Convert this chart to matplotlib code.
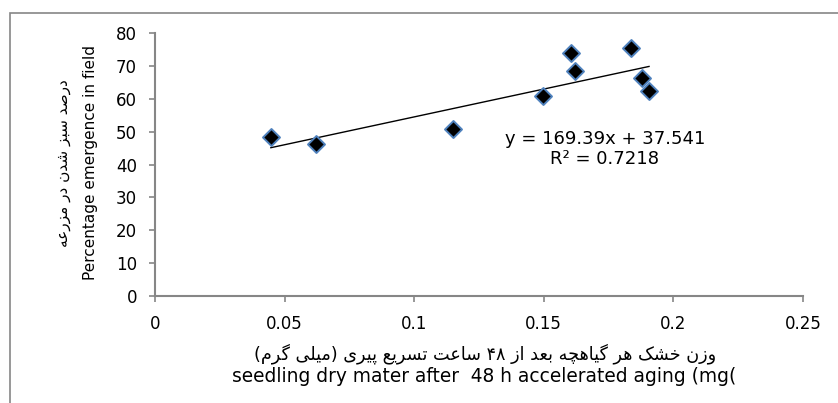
import re
import unicodedata

import matplotlib
matplotlib.use('Agg')
import matplotlib.pyplot as plt
import numpy as np
from matplotlib.patches import Rectangle

# داده ها
dry_weight = [0.0447, 0.0621, 0.115, 0.1495, 0.1605, 0.162, 0.1837, 0.1877, 0.1906]
emergence = [48.3, 46.1, 50.9, 60.8, 74.0, 68.4, 75.3, 66.2, 62.3]
slope, intercept = 169.39, 37.541
r2 = 0.7218
x_ticks = [0, 0.05, 0.1, 0.15, 0.2, 0.25]
y_ticks = [0, 10, 20, 30, 40, 50, 60, 70, 80]

ylabel_fa = 'درصد سبز شدن در مزرعه'
ylabel_en = 'Percentage emergence in field'
xlabel_fa = 'وزن خشک هر گیاهچه بعد از ۴۸ ساعت تسریع پیری (میلی گرم)'
xlabel_en = 'seedling dry mater after  48 h accelerated aging (mg('

# جدول شکل های حروف عربی/فارسی از روی unicodedata
FORMS = {}
for cp in list(range(0xFB50, 0xFE00)) + list(range(0xFE70, 0xFF00)):
    d = unicodedata.decomposition(chr(cp)).split()
    if len(d) == 2 and d[0] in ('<isolated>', '<final>', '<initial>', '<medial>'):
        FORMS.setdefault((chr(int(d[1], 16)), d[0][1:-1]), chr(cp))


def joins_next(c):
    return (c, 'initial') in FORMS


def is_letter(c):
    return (c, 'final') in FORMS


def rtl(text):
    out = []
    for i, c in enumerate(text):
        if not is_letter(c):
            out.append(c)
            continue
        prev = i > 0 and joins_next(text[i - 1])
        nxt = i + 1 < len(text) and is_letter(text[i + 1]) and joins_next(c)
        if prev and nxt:
            form = 'medial'
        elif prev:
            form = 'final'
        elif nxt:
            form = 'initial'
        else:
            form = 'isolated'
        out.append(FORMS.get((c, form), FORMS.get((c, 'isolated'), c)))
    s = ''.join(out)[::-1]
    s = re.sub(r'[0-9\u06f0-\u06f9]+', lambda m: m.group(0)[::-1], s)
    s = s.translate(str.maketrans('()', ')('))
    return s


plt.rcParams['font.family'] = ['DejaVu Sans']
gray = '#868686'

fig = plt.figure(figsize=(8.38, 4.03), dpi=100)
ax = fig.add_axes([155 / 838, 1 - 296 / 403, 648 / 838, 263 / 403])

# کادر بیرونی
fig.patches.append(Rectangle((10 / 838, -0.1), 1.2, 1.1 - 13 / 403, transform=fig.transFigure,
                             fill=False, edgecolor=gray, linewidth=1.2))

ax.scatter(dry_weight, emergence, marker='D', s=75, c='black', edgecolors='#4F81BD', linewidths=1.4, zorder=3)

xs = np.array([min(dry_weight), max(dry_weight)])
ax.plot(xs, slope * xs + intercept, color='black', linewidth=1)

ax.text(0.1736, 44.7, 'y = %.2fx + %.3f\nR² = %.4f' % (slope, intercept, r2), ha='center', va='center',
        fontsize=13, linespacing=1.15)

ax.set_xlim(0, 0.25)
ax.set_ylim(0, 80)
ax.set_xticks(x_ticks)
ax.set_xticklabels(['0', '0.05', '0.1', '0.15', '0.2', '0.25'])
ax.set_yticks(y_ticks)

for s in ['top', 'right']:
    ax.spines[s].set_visible(False)
for s in ['left', 'bottom']:
    ax.spines[s].set_color(gray)
    ax.spines[s].set_linewidth(1.5)
ax.tick_params(axis='both', colors=gray, labelcolor='black', labelsize=12, length=4, width=1.2)
ax.tick_params(axis='x', pad=10)
ax.tick_params(axis='y', pad=9)

fig.text(91 / 838, 1 - 163 / 403, ylabel_en, rotation=90, ha='center', va='center', fontsize=11)
fig.text(63 / 838, 1 - 163 / 403, rtl(ylabel_fa), rotation=90, ha='center', va='center', fontsize=11)
fig.text(485 / 838, 1 - 354 / 403, rtl(xlabel_fa), ha='center', va='center', fontsize=12.7)
fig.text(484 / 838, 1 - 376 / 403, xlabel_en, ha='center', va='center', fontsize=13.4)

plt.savefig('out.png', dpi=100)
